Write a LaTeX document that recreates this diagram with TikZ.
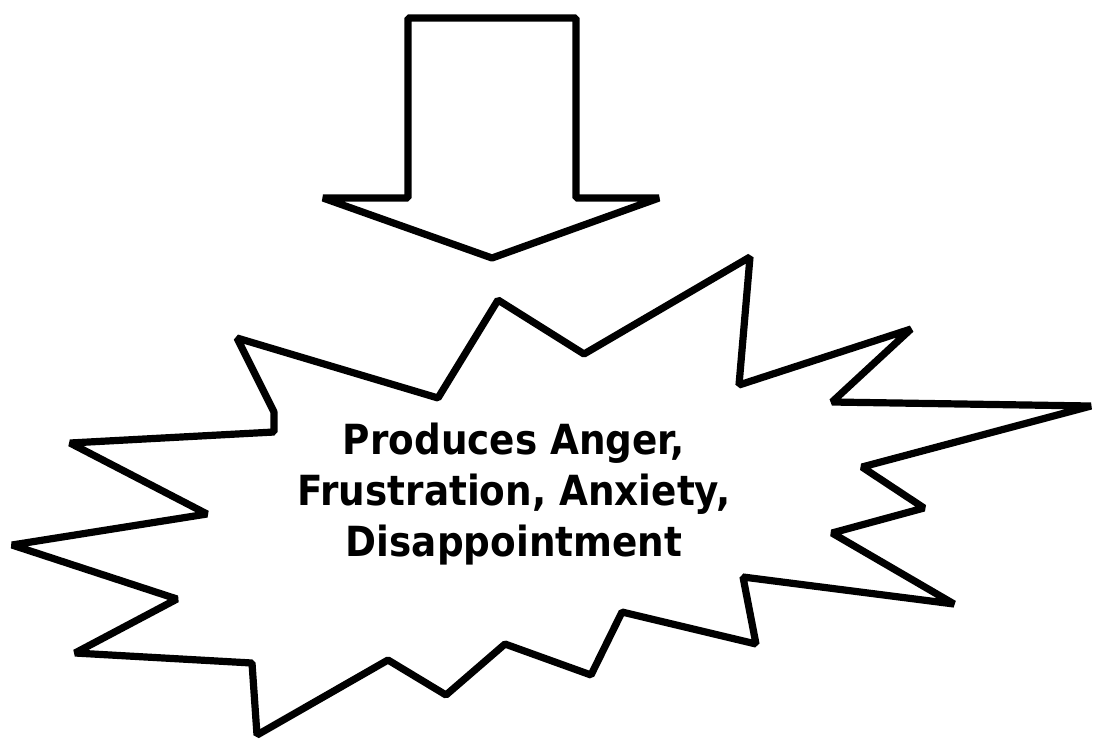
\documentclass[tikz,border=0pt]{standalone}
\usepackage{fontspec}
\setmainfont{DejaVu Sans}[FakeStretch=0.9]
\begin{document}
\begin{tikzpicture}[x=1pt,y=-1pt,
  outline/.style={draw=black,fill=white,line width=7.2pt,line join=bevel},
  label/.style={align=center,inner sep=0pt,font=\bfseries\fontsize{41.5pt}{51pt}\selectfont}]
\useasboundingbox (0,0) rectangle (1094,740);
% down arrow
\draw[outline] (408,18) -- (576,18) -- (576,198) -- (659,198) -- (492,258)
  -- (323,198) -- (408,198) -- cycle;
% explosion star
\draw[outline] (237,338) -- (438,398) -- (498,300) -- (584,354) -- (750,257)
  -- (739,385) -- (911,329) -- (832,402) -- (1091,406) -- (862,467)
  -- (924,508) -- (832,533) -- (954,604) -- (743,577) -- (756,644)
  -- (622,612) -- (591,675) -- (505,644) -- (446,695) -- (388,660)
  -- (257,735) -- (252,663) -- (75,653) -- (177,599) -- (12,545)
  -- (207,514) -- (70,443) -- (274,432) -- (274,412) -- cycle;
\node[label] (txt) at (514,494) {Produces Anger,\\Frustration, Anxiety,\\Disappointment};
\end{tikzpicture}
\end{document}
